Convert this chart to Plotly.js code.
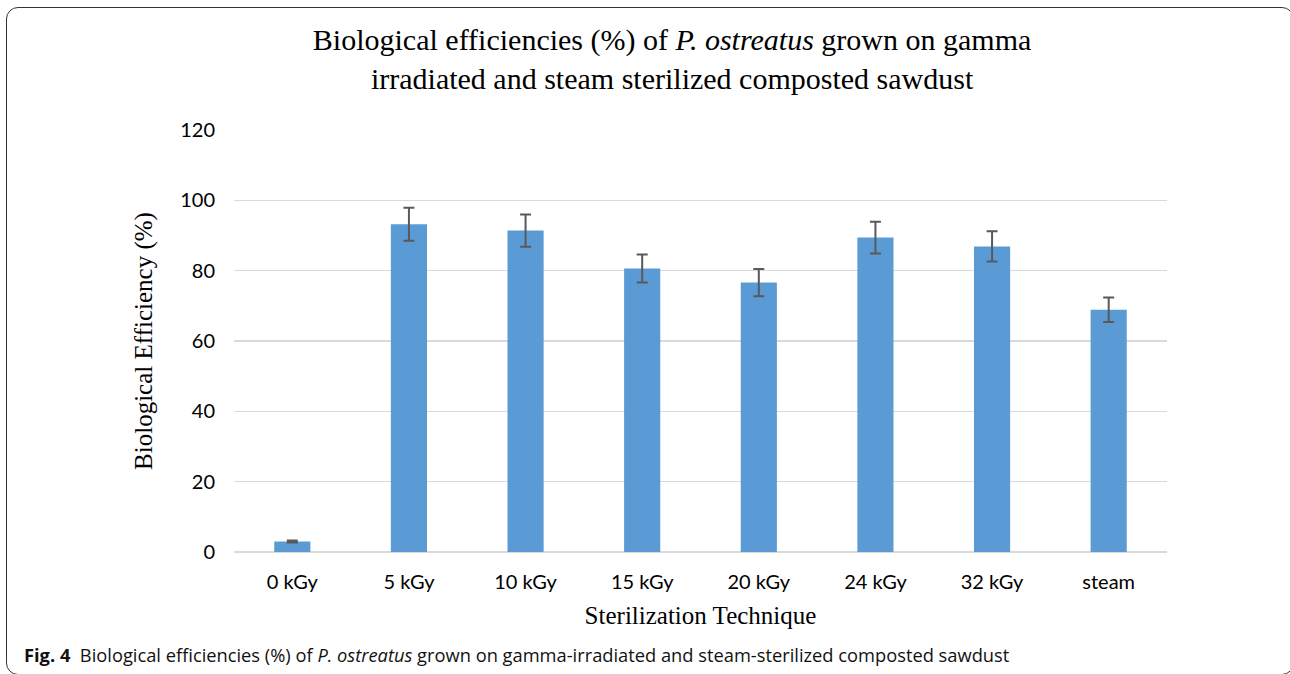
<!DOCTYPE html>
<html>
<head>
<meta charset="utf-8">
<script src="https://cdn.plot.ly/plotly-3.0.1.min.js"></script>
<style>
  html, body { margin: 0; padding: 0; background: #fff; overflow: hidden; }
  #wrap { position: relative; width: 1290px; height: 674px; }
  #chart { position: absolute; left: 0; top: 0; width: 1290px; height: 674px; }
  #frame { position: absolute; left: 6px; top: 7px; width: 1286px; height: 666px;
           border: 1.5px solid #333; border-radius: 12px; pointer-events: none; }
</style>
</head>
<body>
<div id="wrap">
  <div id="chart"></div>
  <div id="frame"></div>
</div>
<script>
const categories = ["0 kGy", "5 kGy", "10 kGy", "15 kGy", "20 kGy", "24 kGy", "32 kGy", "steam"];
const efficiency = [3.0, 93.2, 91.4, 80.6, 76.6, 89.4, 86.9, 68.9];
const errors = [0.3, 4.7, 4.6, 4.0, 3.9, 4.5, 4.3, 3.5];
const yTicks = [0, 20, 40, 60, 80, 100, 120];

const trace = {
  type: 'bar',
  x: categories,
  y: efficiency,
  marker: { color: '#5b9bd5', line: { width: 0 } },
  error_y: { type: 'data', array: errors, visible: true, color: '#595959', thickness: 2, width: 5.5 },
  hoverinfo: 'skip'
};

const layout = {
  width: 1290, height: 674,
  paper_bgcolor: 'rgba(0,0,0,0)',
  plot_bgcolor: '#fff',
  margin: { l: 234, r: 123, t: 130, b: 122 },
  bargap: 0.69,
  showlegend: false,
  title: {
    text: 'Biological efficiencies (%) of <i>P. ostreatus</i> grown on gamma<br>irradiated and steam sterilized composted sawdust',
    font: { family: 'Liberation Serif, Times New Roman, serif', size: 30, color: '#000' },
    xref: 'container', x: 0.521, xanchor: 'center',
    yref: 'container', y: 1 - 50/674, yanchor: 'top'
  },
  xaxis: {
    type: 'category',
    tickfont: { family: 'Lato, sans-serif', size: 20, color: '#000' },
    ticks: '', showline: false, showgrid: false, zeroline: false,
    ticklabelstandoff: 16,
    title: { text: 'Sterilization Technique', standoff: 14,
             font: { family: 'Liberation Serif, Times New Roman, serif', size: 25, color: '#000' } }
  },
  yaxis: {
    range: [0, 120],
    tickvals: yTicks,
    ticktext: yTicks.map(String),
    tickfont: { family: 'Lato, sans-serif', size: 20, color: '#000' },
    gridcolor: '#d9d9d9', gridwidth: 1.5,
    zeroline: true, zerolinecolor: '#d9d9d9', zerolinewidth: 1.5,
    showline: false, ticks: '',
    ticklabelstandoff: 18,
    title: { text: 'Biological Efficiency (%)', standoff: 20,
             font: { family: 'Liberation Serif, Times New Roman, serif', size: 25, color: '#000' } }
  },
  annotations: [{
    text: '<b>Fig. 4</b>  Biological efficiencies (%) of <i>P. ostreatus</i> grown on gamma-irradiated and steam-sterilized composted sawdust',
    xref: 'paper', yref: 'paper',
    x: (22 - 234) / 933, y: -(654 - 552) / 422,
    xanchor: 'left', yanchor: 'middle', showarrow: false,
    font: { family: 'Open Sans, sans-serif', size: 18.3, color: '#111' }
  }]
};

Plotly.newPlot('chart', [trace], layout, { displayModeBar: false, staticPlot: true });
</script>
</body>
</html>
